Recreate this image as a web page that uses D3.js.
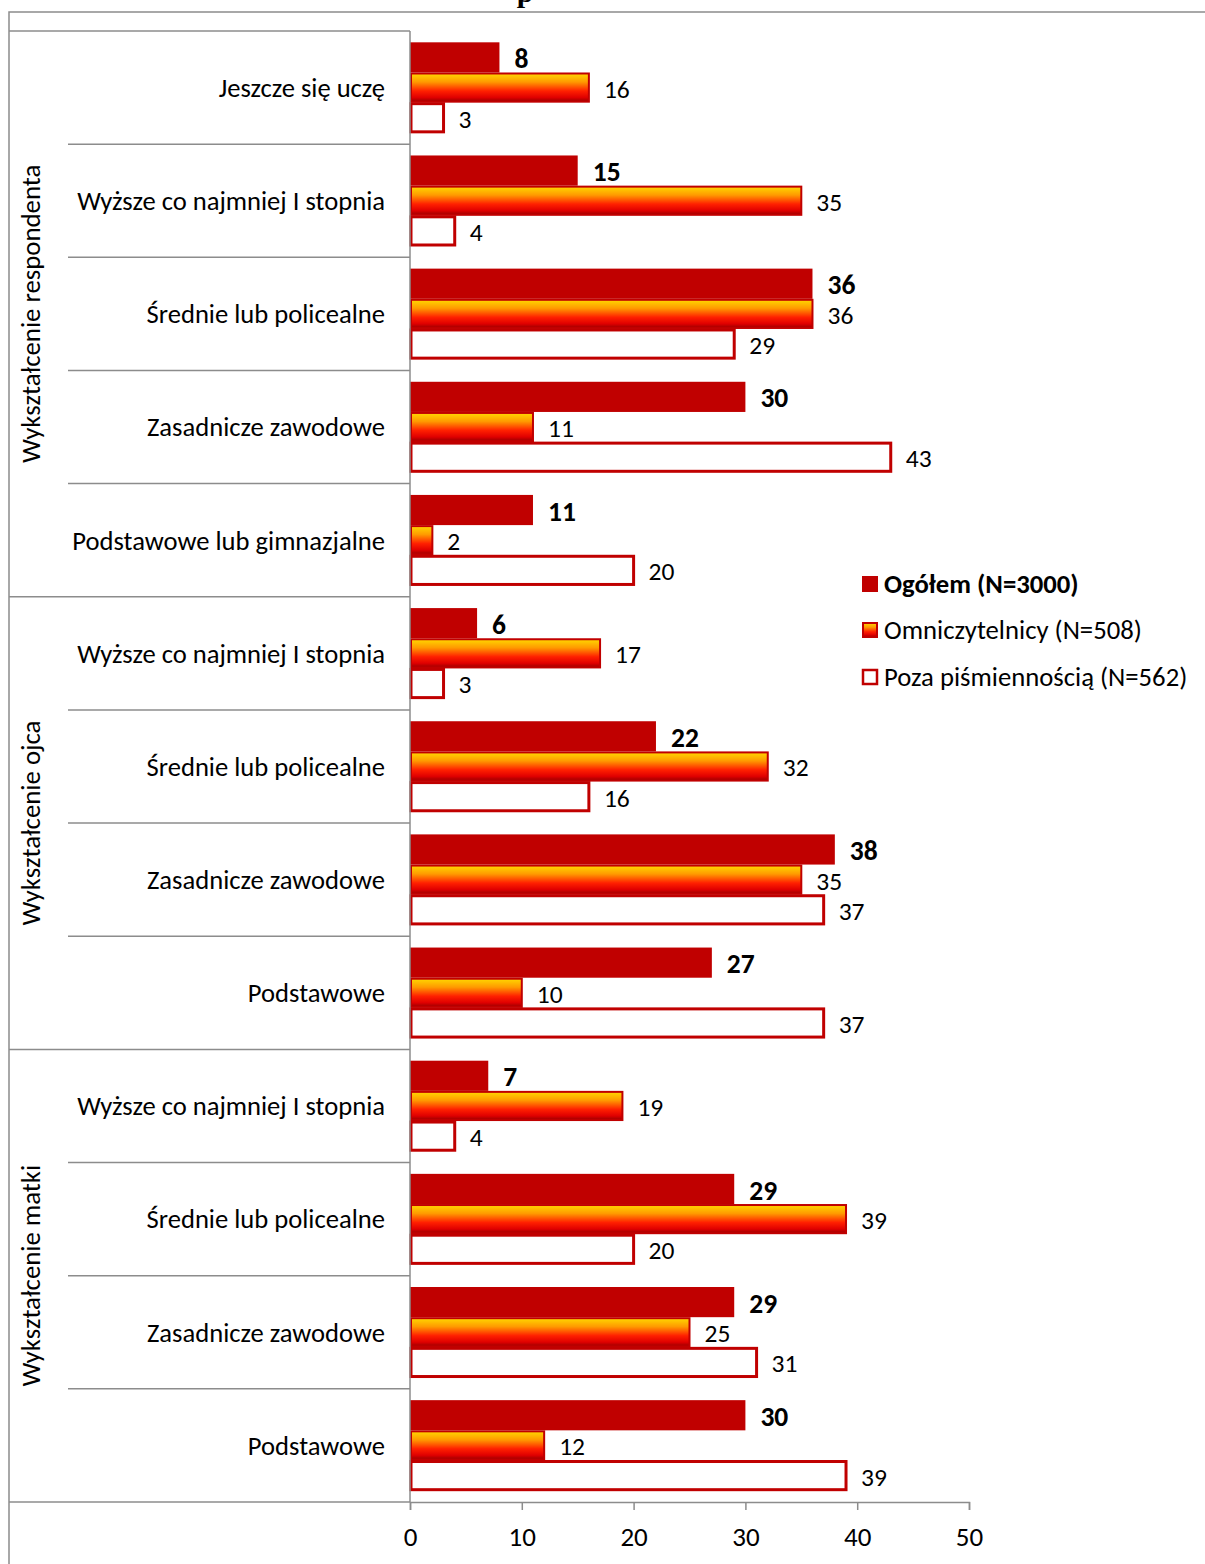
<!DOCTYPE html>
<html><head><meta charset="utf-8">
<script src="https://cdn.jsdelivr.net/npm/d3@7"></script>
<style>
body{margin:0;background:#fff;}
svg text{font-family:Carlito,Lato,"Open Sans",sans-serif;fill:#000;}
</style></head>
<body>
<svg id="chart" width="1205" height="1564"></svg>
<script>
const groups = ["Wykształcenie respondenta","Wykształcenie ojca","Wykształcenie matki"];
const categories = [
  "Jeszcze się uczę","Wyższe co najmniej I stopnia","Średnie lub policealne","Zasadnicze zawodowe","Podstawowe lub gimnazjalne",
  "Wyższe co najmniej I stopnia","Średnie lub policealne","Zasadnicze zawodowe","Podstawowe",
  "Wyższe co najmniej I stopnia","Średnie lub policealne","Zasadnicze zawodowe","Podstawowe"
];
const categoryGroup = [0,0,0,0,0,1,1,1,1,2,2,2,2];
const seriesNames = ["Ogółem (N=3000)","Omniczytelnicy (N=508)","Poza piśmiennością (N=562)"];
const ogolem       = [8,15,36,30,11, 6,22,38,27, 7,29,29,30];
const omniczytelnicy = [16,35,36,11,2, 17,32,35,10, 19,39,25,12];
const pozaPismiennoscia = [3,4,29,43,20, 3,16,37,37, 4,20,31,39];
const seriesValues = [ogolem, omniczytelnicy, pozaPismiennoscia];
const xTicks = [0,10,20,30,40,50];

const svg = d3.select("#chart");
const RED = "#C00000", GRAY = "#8C8C8C";

const defs = svg.append("defs");
const grad = defs.append("linearGradient").attr("id","omni").attr("x1",0).attr("y1",0).attr("x2",0).attr("y2",1);
[[0,"#FFD800"],[0.3,"#FF9A00"],[0.62,"#FF2000"],[0.85,"#E00000"],[1,"#9A0000"]].forEach(s=>
  grad.append("stop").attr("offset",s[0]).attr("stop-color",s[1]));

// title remnant (cut off at top of the picture, as in the reference)
svg.append("text").attr("x",525).attr("y",2).attr("text-anchor","middle")
  .style("font-family","'Liberation Serif',serif").style("font-weight","bold").style("font-size","30px").text("p");

// outer chart border
svg.append("rect").attr("x",9).attr("y",12).attr("width",1300).attr("height",1700)
  .attr("fill","none").attr("stroke",GRAY).attr("stroke-width",1.5);

const x0 = 410, yTop = 31, yBot = 1502;
const x = d3.scaleLinear().domain([0,50]).range([x0,969]);
const idx = d3.range(categories.length);
const y = d3.scaleBand().domain(idx).range([yTop,yBot]).paddingInner(0.2).paddingOuter(0.1);
const ySub = d3.scaleBand().domain([0,1,2]).range([0,y.bandwidth()]).padding(0);
const step = y.step();

// category separators
const bounds = d3.range(categories.length+1);
const gStarts = [0,5,9,13];
svg.append("g").selectAll("line").data(bounds).join("line")
  .attr("x1",d=>gStarts.includes(d)?9:68).attr("x2",x0)
  .attr("y1",d=>yTop+d*step).attr("y2",d=>yTop+d*step)
  .attr("stroke",GRAY).attr("stroke-width",1.5);

// bars
const bars = svg.append("g");
seriesValues.forEach((vals,s)=>{
  bars.selectAll(null).data(idx).join("rect")
    .attr("x", s===0? x(0) : x(0)+1)
    .attr("y", i=>y(i)+ySub(s)+(s===0?0:1))
    .attr("width", i=> s===0 ? x(vals[i])-x(0) : x(vals[i])-x(0)-1)
    .attr("height", s===0? ySub.bandwidth() : ySub.bandwidth()-2)
    .attr("fill", s===0?RED:(s===1?"url(#omni)":"#fff"))
    .attr("stroke", s===0?"none":RED)
    .attr("stroke-width", s===1?2:3);
  bars.selectAll(null).data(idx).join("text")
    .attr("x", i=>x(vals[i])+15)
    .attr("y", i=>y(i)+ySub(s)+ySub.bandwidth()/2+1)
    .attr("dy","0.35em")
    .style("font-size", s===0?"27.5px":"25.5px")
    .style("font-weight", s===0?"bold":"normal")
    .text(i=>vals[i]);
});

// vertical axis line
svg.append("line").attr("x1",x0).attr("x2",x0).attr("y1",yTop).attr("y2",yBot)
  .attr("stroke",GRAY).attr("stroke-width",1.5);

// category labels
svg.append("g").selectAll("text").data(idx).join("text")
  .attr("x",385).attr("y",i=>yTop+i*step+step/2).attr("dy","0.35em")
  .attr("text-anchor","end").style("font-size","26.6px").text(i=>categories[i]);

// group labels
groups.forEach((g,k)=>{
  const cy = yTop + (gStarts[k]+gStarts[k+1])/2*step;
  svg.append("text").attr("transform",`translate(31,${cy}) rotate(-90)`)
    .attr("text-anchor","middle").attr("dy","0.35em").style("font-size","26.8px").text(g);
});

// x axis
const xAxis = svg.append("g").attr("transform",`translate(0,${yBot})`)
  .call(d3.axisBottom(x).tickValues(xTicks).tickSize(8).tickPadding(17).tickFormat(d3.format("d")));
xAxis.select(".domain").attr("stroke",GRAY).attr("stroke-width",1.5);
xAxis.selectAll(".tick line").attr("stroke",GRAY).attr("stroke-width",1.5);
xAxis.selectAll(".tick text").style("font-size","27px").style("font-family","Carlito,Lato,sans-serif").attr("fill","#000");

// legend
const leg = svg.append("g");
const legY = [584,630,677];
seriesNames.forEach((n,s)=>{
  leg.append("rect").attr("x",s===0?862:863).attr("y",legY[s]-8+(s===0?0:1))
    .attr("width",s===0?16:14).attr("height",s===0?16:14)
    .attr("fill", s===0?RED:(s===1?"url(#omni)":"#fff"))
    .attr("stroke", s===0?"none":RED).attr("stroke-width",s===1?2:2.5);
  leg.append("text").attr("x",884).attr("y",legY[s]).attr("dy","0.35em")
    .style("font-size","26.7px").style("font-weight",s===0?"bold":"normal").text(n);
});
</script>
</body></html>
